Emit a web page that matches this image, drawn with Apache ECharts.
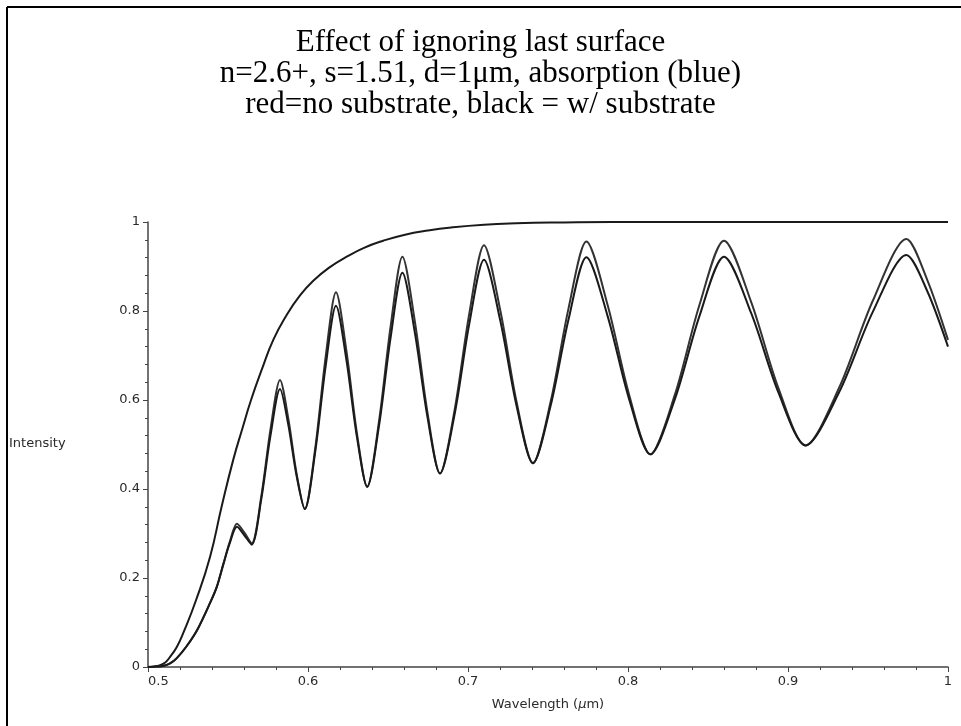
<!DOCTYPE html>
<html><head><meta charset="utf-8">
<script src="https://cdn.jsdelivr.net/npm/echarts@6/dist/echarts.min.js"></script>
<style>html,body{margin:0;padding:0;background:#fff}#c{width:961px;height:726px}</style>
</head><body><div id="c"></div>
<script>
const titleLines = [
  'Effect of ignoring last surface',
  'n=2.6+, s=1.51, d=1\u03bcm, absorption (blue)',
  'red=no substrate, black = w/ substrate'
];
const xTickLabels = ['0.5', '0.6', '0.7', '0.8', '0.9', '1'];
const yTickLabels = ['0', '0.2', '0.4', '0.6', '0.8', '1'];
const yName = 'Intensity';
const xName = 'Wavelength ({i|\u03bc}m)';

// absorption curve (blue)
const absWavelength = [0.5, 0.505, 0.51, 0.5138, 0.518, 0.522, 0.53, 0.5388, 0.546, 0.5533, 0.559, 0.5644, 0.5715, 0.5783, 0.5865, 0.595, 0.6033, 0.613, 0.6242, 0.635, 0.647, 0.66, 0.675, 0.69, 0.71, 0.73, 0.76, 0.79, 0.85, 0.92, 1.0];
const absValue = [0, 0.002, 0.008, 0.023, 0.045, 0.076, 0.15, 0.248, 0.36, 0.466, 0.536, 0.6, 0.672, 0.735, 0.79, 0.835, 0.868, 0.897, 0.922, 0.942, 0.958, 0.971, 0.981, 0.988, 0.994, 0.997, 0.999, 1, 1, 1, 1];

// oscillating curves
const oscWavelength = [0.5, 0.505, 0.51, 0.5138, 0.518, 0.524, 0.531, 0.5388, 0.543, 0.547, 0.551, 0.5556, 0.5602, 0.5648, 0.5707, 0.5766, 0.5825, 0.5877, 0.5928, 0.598, 0.6045, 0.611, 0.6175, 0.624, 0.6305, 0.637, 0.6443, 0.6517, 0.659, 0.6668, 0.6747, 0.6825, 0.6917, 0.7008, 0.71, 0.7202, 0.7304, 0.7406, 0.7517, 0.7629, 0.774, 0.7873, 0.8007, 0.814, 0.8293, 0.8447, 0.86, 0.877, 0.894, 0.911, 0.932, 0.953, 0.974, 0.987, 1.0];
const noSubstrate = [0, 0.001, 0.003, 0.008, 0.02, 0.046, 0.085, 0.144, 0.18, 0.23, 0.28, 0.322, 0.302, 0.278, 0.381, 0.535, 0.645, 0.558, 0.436, 0.355, 0.491, 0.696, 0.842, 0.711, 0.527, 0.405, 0.55, 0.767, 0.922, 0.776, 0.571, 0.435, 0.579, 0.794, 0.948, 0.801, 0.595, 0.458, 0.597, 0.807, 0.956, 0.813, 0.612, 0.478, 0.612, 0.814, 0.958, 0.82, 0.627, 0.498, 0.628, 0.823, 0.962, 0.87, 0.735];
const withSubstrate = [0, 0.001, 0.003, 0.008, 0.02, 0.046, 0.085, 0.144, 0.18, 0.23, 0.277, 0.315, 0.296, 0.275, 0.375, 0.521, 0.625, 0.544, 0.431, 0.355, 0.483, 0.675, 0.812, 0.69, 0.519, 0.405, 0.54, 0.742, 0.886, 0.751, 0.561, 0.435, 0.569, 0.771, 0.915, 0.778, 0.586, 0.458, 0.588, 0.782, 0.921, 0.788, 0.602, 0.478, 0.602, 0.789, 0.922, 0.795, 0.617, 0.498, 0.618, 0.798, 0.926, 0.845, 0.72];

const pairs = (xs, ys) => xs.map((x, i) => [x, ys[i]]);
const axisColor = '#444';
const labelStyle = { fontFamily: 'DejaVu Sans', fontSize: 13, color: '#2a2a2a' };

const chart = echarts.init(document.getElementById('c'), null, { renderer: 'canvas' });
chart.setOption({
  backgroundColor: '#fff',
  animation: false,
  title: {
    text: titleLines.join('\n'),
    left: 'center',
    top: 22,
    textStyle: { fontFamily: 'Liberation Serif', fontSize: 31, fontWeight: 'normal', lineHeight: 31, color: '#000' }
  },
  grid: { left: 148, right: 13, top: 222, bottom: 59 },
  xAxis: {
    type: 'value', min: 0.5, max: 1, interval: 0.1,
    name: xName, nameLocation: 'middle', nameGap: 31,
    nameTextStyle: Object.assign({}, labelStyle, { rich: { i: Object.assign({}, labelStyle, { fontStyle: 'italic' }) } }),
    axisLine: { lineStyle: { color: axisColor, width: 1.5 } },
    axisTick: { show: true, length: 5, lineStyle: { color: axisColor } },
    minorTick: { show: true, splitNumber: 5, length: 3, lineStyle: { color: axisColor } },
    splitLine: { show: false },
    axisLabel: Object.assign({}, labelStyle, {
      margin: 8, alignMinLabel: 'left',
      formatter: v => xTickLabels[Math.round((v - 0.5) / 0.1)]
    })
  },
  yAxis: {
    type: 'value', min: 0, max: 1, interval: 0.2,
    axisLine: { show: true, lineStyle: { color: axisColor, width: 1.5 } },
    axisTick: { show: true, length: 5, lineStyle: { color: axisColor } },
    minorTick: { show: true, splitNumber: 5, length: 3, lineStyle: { color: axisColor } },
    splitLine: { show: false },
    axisLabel: Object.assign({}, labelStyle, {
      margin: 8,
      formatter: v => yTickLabels[Math.round(v / 0.2)]
    })
  },
  graphic: [
    { type: 'line', shape: { x1: 7, y1: 7, x2: 961, y2: 7 }, style: { stroke: '#000', lineWidth: 2 } },
    { type: 'line', shape: { x1: 7, y1: 7, x2: 7, y2: 726 }, style: { stroke: '#000', lineWidth: 2 } },
    { type: 'text', left: 9, top: 437, style: { text: yName, fill: '#2a2a2a', font: '13px "DejaVu Sans"' } }
  ],
  series: [
    { name: 'absorption', type: 'line', data: pairs(absWavelength, absValue), showSymbol: false, smooth: 0.5,
      lineStyle: { color: '#1a1a1a', width: 2 } },
    { name: 'no substrate', type: 'line', data: pairs(oscWavelength, noSubstrate), showSymbol: false, smooth: 0.3,
      lineStyle: { color: '#333', width: 2 } },
    { name: 'w/ substrate', type: 'line', data: pairs(oscWavelength, withSubstrate), showSymbol: false, smooth: 0.3,
      lineStyle: { color: '#1a1a1a', width: 2 } }
  ]
});
</script>
</body></html>
